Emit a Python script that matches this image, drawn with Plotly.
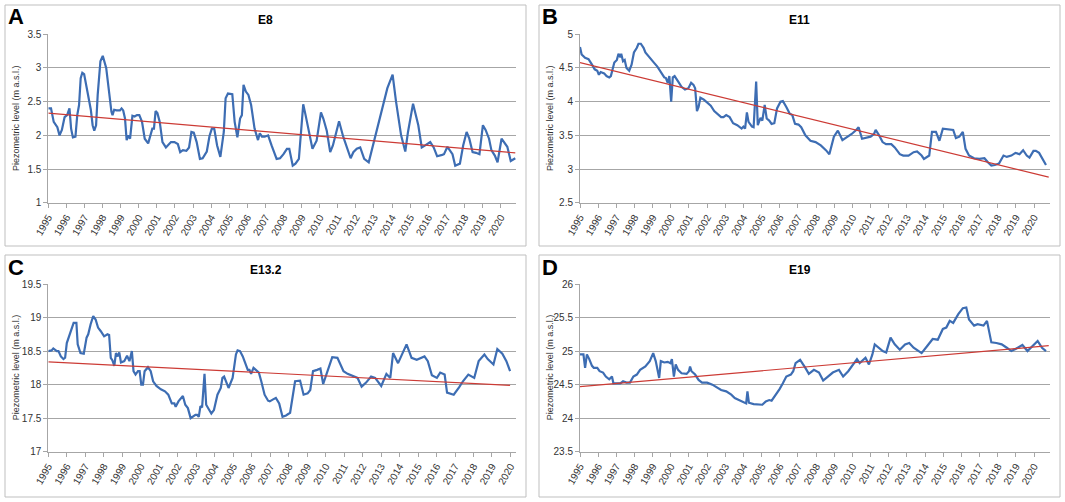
import plotly.graph_objects as go

# ---------------- data ----------------
year_ticks = list(range(1995, 2021))
year_labels = [str(y) for y in year_ticks]

a_years = [1995.0, 1995.15, 1995.3, 1995.5, 1995.62, 1995.75, 1995.9, 1996.04, 1996.17, 1996.26,
           1996.36, 1996.5, 1996.6, 1996.7, 1996.79, 1996.88, 1996.98, 1997.2, 1997.35, 1997.45,
           1997.54, 1997.64, 1997.73, 1997.88, 1998.01, 1998.2, 1998.33, 1998.49, 1998.55, 1998.64,
           1998.77, 1998.96, 1999.05, 1999.14, 1999.24, 1999.33, 1999.43, 1999.52, 1999.65, 1999.77,
           1999.9, 2000.03, 2000.18, 2000.33, 2000.52, 2000.65, 2000.75, 2000.84, 2000.93, 2001.03,
           2001.16, 2001.31, 2001.5, 2001.78, 2001.97, 2002.16, 2002.29, 2002.44, 2002.63, 2002.78,
           2002.91, 2003.04, 2003.2, 2003.38, 2003.53, 2003.76, 2003.91, 2004.04, 2004.17, 2004.33,
           2004.51, 2004.7, 2004.8, 2004.93, 2005.08, 2005.17, 2005.3, 2005.45, 2005.6, 2005.7,
           2005.79, 2005.92, 2006.06, 2006.21, 2006.4, 2006.5, 2006.59, 2006.69, 2006.81, 2006.96,
           2007.15, 2007.34, 2007.62, 2007.81, 2008.0, 2008.19, 2008.32, 2008.51, 2008.66, 2008.85,
           2009.09, 2009.22, 2009.41, 2009.6, 2009.83, 2010.07, 2010.2, 2010.39, 2010.58, 2010.73,
           2010.92, 2011.07, 2011.3, 2011.52, 2011.71, 2011.86, 2012.05, 2012.24, 2012.46, 2012.71,
           2012.99, 2013.37, 2013.74, 2014.03, 2014.22, 2014.5, 2014.73, 2014.88, 2015.16, 2015.45,
           2015.64, 2015.83, 2016.11, 2016.3, 2016.49, 2016.77, 2016.87, 2017.06, 2017.19, 2017.34,
           2017.49, 2017.62, 2017.75, 2017.93, 2018.12, 2018.27, 2018.45, 2018.64, 2018.83, 2019.02,
           2019.17, 2019.36, 2019.49, 2019.68, 2019.83, 2020.05, 2020.19, 2020.37, 2020.56, 2020.67,
           2020.81]
a_levels = [2.40, 2.40, 2.20, 2.12, 2.00, 2.08, 2.27, 2.30, 2.40, 2.10,
            1.97, 1.98, 2.30, 2.45, 2.85, 2.93, 2.91, 2.60, 2.38, 2.15,
            2.07, 2.15, 2.60, 3.10, 3.18, 3.00, 2.70, 2.35, 2.30, 2.38,
            2.37, 2.37, 2.40, 2.37, 2.25, 1.93, 2.00, 1.95, 2.29, 2.28,
            2.30, 2.30, 2.20, 1.95, 1.88, 2.03, 2.10, 2.10, 2.36, 2.33,
            2.20, 1.90, 1.82, 1.90, 1.90, 1.87, 1.75, 1.78, 1.77, 1.82,
            2.05, 2.04, 1.90, 1.65, 1.66, 1.76, 1.99, 2.10, 2.10, 1.85,
            1.68, 2.05, 2.55, 2.62, 2.62, 2.61, 2.20, 1.97, 2.25, 2.30,
            2.75, 2.65, 2.60, 2.45, 2.10, 2.00, 1.93, 2.03, 1.98, 1.98,
            2.00, 1.85, 1.65, 1.66, 1.72, 1.80, 1.80, 1.55, 1.58, 1.65,
            2.46, 2.30, 2.05, 1.80, 1.92, 2.34, 2.25, 2.07, 1.75, 1.85,
            2.05, 2.21, 1.98, 1.82, 1.66, 1.75, 1.80, 1.82, 1.65, 1.60,
            1.90, 2.30, 2.70, 2.90, 2.50, 2.00, 1.76, 2.05, 2.47, 2.15,
            1.82, 1.85, 1.90, 1.82, 1.69, 1.71, 1.72, 1.83, 1.78, 1.72,
            1.55, 1.56, 1.58, 1.85, 2.05, 1.95, 1.75, 1.74, 1.72, 2.15,
            2.08, 1.95, 1.78, 1.70, 1.60, 1.95, 1.90, 1.83, 1.62, 1.64,
            1.66]
a_trend_years = [1995.0, 2020.81]
a_trend_levels = [2.33, 1.74]

b_years = [1995.0, 1995.09, 1995.28, 1995.47, 1995.66, 1995.81, 1995.95, 1996.04, 1996.14, 1996.33,
           1996.46, 1996.61, 1996.7, 1996.8, 1996.89, 1997.03, 1997.12, 1997.22, 1997.27, 1997.37,
           1997.46, 1997.56, 1997.71, 1997.84, 1997.97, 1998.13, 1998.22, 1998.35, 1998.5, 1998.6,
           1998.88, 1999.07, 1999.26, 1999.45, 1999.64, 1999.73, 1999.83, 1999.92, 2000.02, 2000.11,
           2000.21, 2000.4, 2000.59, 2000.78, 2000.97, 2001.12, 2001.25, 2001.34, 2001.44, 2001.53,
           2001.63, 2001.82, 2002.0, 2002.2, 2002.39, 2002.58, 2002.77, 2002.9, 2003.05, 2003.24,
           2003.43, 2003.66, 2003.81, 2003.9, 2004.0, 2004.09, 2004.19, 2004.28, 2004.47, 2004.56,
           2004.7, 2004.79, 2004.94, 2005.04, 2005.17, 2005.28, 2005.42, 2005.55, 2005.7, 2005.85,
           2006.04, 2006.17, 2006.36, 2006.55, 2006.69, 2006.84, 2007.03, 2007.18, 2007.41, 2007.69,
           2007.97, 2008.26, 2008.54, 2008.73, 2008.98, 2009.2, 2009.45, 2009.68, 2009.96, 2010.21,
           2010.34, 2010.53, 2010.81, 2011.0, 2011.19, 2011.28, 2011.47, 2011.66, 2011.85, 2012.14,
           2012.33, 2012.61, 2012.8, 2013.09, 2013.37, 2013.56, 2013.81, 2013.94, 2014.23, 2014.38,
           2014.6, 2014.79, 2014.98, 2015.36, 2015.55, 2015.7, 2015.89, 2016.08, 2016.23, 2016.42,
           2016.7, 2016.99, 2017.27, 2017.46, 2017.65, 2017.84, 2018.07, 2018.32, 2018.5, 2018.75,
           2018.98, 2019.2, 2019.4, 2019.6, 2019.75, 2019.97, 2020.1, 2020.28, 2020.47, 2020.66]
b_levels = [4.81, 4.70, 4.65, 4.63, 4.55, 4.48, 4.46, 4.40, 4.44, 4.42,
            4.38, 4.36, 4.38, 4.48, 4.58, 4.62, 4.71, 4.66, 4.71, 4.60,
            4.62, 4.50, 4.46, 4.55, 4.73, 4.80, 4.86, 4.86, 4.80, 4.73,
            4.63, 4.58, 4.52, 4.43, 4.36, 4.35, 4.28, 4.38, 4.00, 4.36,
            4.38, 4.30, 4.22, 4.18, 4.20, 4.28, 4.25, 4.20, 3.86, 3.92,
            4.06, 4.03, 3.98, 3.94, 3.86, 3.82, 3.77, 3.77, 3.80, 3.77,
            3.68, 3.65, 3.62, 3.60, 3.63, 3.60, 3.84, 3.70, 3.63, 3.62,
            4.30, 3.65, 3.76, 3.72, 3.95, 3.75, 3.72, 3.67, 3.68, 3.90,
            4.00, 4.01, 3.92, 3.82, 3.80, 3.67, 3.66, 3.62, 3.50, 3.42,
            3.40, 3.35, 3.28, 3.22, 3.48, 3.57, 3.43, 3.47, 3.52, 3.58,
            3.62, 3.45, 3.47, 3.48, 3.52, 3.58, 3.50, 3.40, 3.37, 3.37,
            3.32, 3.22, 3.20, 3.20, 3.25, 3.26, 3.20, 3.15, 3.20, 3.55,
            3.55, 3.42, 3.60, 3.59, 3.58, 3.46, 3.48, 3.55, 3.30, 3.20,
            3.16, 3.15, 3.16, 3.10, 3.05, 3.06, 3.08, 3.20, 3.18, 3.20,
            3.24, 3.22, 3.28, 3.20, 3.17, 3.27, 3.27, 3.24, 3.15, 3.06]
b_trend_years = [1995.0, 2020.81]
b_trend_levels = [4.58, 2.88]

c_years = [1995.0, 1995.18, 1995.27, 1995.46, 1995.55, 1995.68, 1995.82, 1995.91, 1996.0, 1996.13,
           1996.22, 1996.37, 1996.52, 1996.59, 1996.74, 1996.92, 1997.07, 1997.16, 1997.29, 1997.43,
           1997.56, 1997.69, 1997.83, 1998.02, 1998.2, 1998.29, 1998.38, 1998.47, 1998.57, 1998.66,
           1998.75, 1998.84, 1998.93, 1999.11, 1999.26, 1999.39, 1999.52, 1999.61, 1999.72, 1999.85,
           1999.94, 2000.03, 2000.12, 2000.21, 2000.39, 2000.54, 2000.67, 2000.85, 2001.09, 2001.31,
           2001.49, 2001.68, 2001.82, 2001.89, 2002.04, 2002.28, 2002.41, 2002.55, 2002.7, 2002.86,
           2002.96, 2003.05, 2003.14, 2003.23, 2003.32, 2003.45, 2003.54, 2003.69, 2003.82, 2003.96,
           2004.15, 2004.33, 2004.42, 2004.51, 2004.61, 2004.75, 2004.97, 2005.15, 2005.24, 2005.37,
           2005.52, 2005.66, 2005.79, 2005.88, 2005.97, 2006.1, 2006.25, 2006.39, 2006.52, 2006.7,
           2006.89, 2006.98, 2007.16, 2007.31, 2007.49, 2007.67, 2007.86, 2008.08, 2008.35, 2008.62,
           2008.81, 2009.03, 2009.17, 2009.32, 2009.54, 2009.72, 2009.87, 2010.05, 2010.27, 2010.36,
           2010.64, 2010.82, 2010.97, 2011.19, 2011.46, 2011.73, 2011.95, 2012.19, 2012.46, 2012.68,
           2013.01, 2013.29, 2013.5, 2013.65, 2013.92, 2014.1, 2014.38, 2014.65, 2014.93, 2015.35,
           2015.53, 2015.75, 2016.02, 2016.2, 2016.44, 2016.57, 2016.75, 2016.93, 2017.22, 2017.43,
           2017.72, 2018.04, 2018.28, 2018.59, 2018.77, 2019.08, 2019.29, 2019.56, 2019.78, 2019.98]
c_levels = [18.50, 18.51, 18.54, 18.50, 18.50, 18.42, 18.38, 18.40, 18.62, 18.72,
            18.82, 18.92, 18.92, 18.60, 18.47, 18.46, 18.70, 18.75, 18.90, 19.02,
            18.97, 18.85, 18.80, 18.72, 18.75, 18.74, 18.40, 18.36, 18.28, 18.47,
            18.42, 18.48, 18.33, 18.35, 18.43, 18.35, 18.50, 18.20, 18.15, 18.20,
            18.20, 18.00, 18.00, 18.20, 18.26, 18.20, 18.05, 17.98, 17.93, 17.90,
            17.85, 17.72, 17.72, 17.67, 17.75, 17.83, 17.70, 17.65, 17.50, 17.53,
            17.55, 17.55, 17.52, 17.68, 17.66, 18.16, 17.70, 17.63, 17.57, 17.62,
            17.85, 17.95, 18.10, 18.12, 18.05, 17.95, 18.10, 18.45, 18.51, 18.50,
            18.42, 18.33, 18.22, 18.22, 18.16, 18.25, 18.22, 18.18, 18.05, 17.85,
            17.76, 17.75, 17.78, 17.80, 17.72, 17.52, 17.54, 17.58, 18.05, 18.06,
            17.85, 17.87, 17.92, 18.20, 18.22, 18.24, 18.01, 18.15, 18.35, 18.41,
            18.40, 18.28, 18.20, 18.16, 18.13, 18.10, 17.97, 18.03, 18.12, 18.10,
            17.98, 18.16, 18.10, 18.47, 18.32, 18.42, 18.60, 18.40, 18.37, 18.42,
            18.35, 18.14, 18.10, 18.18, 18.15, 17.88, 17.87, 17.85, 17.96, 18.05,
            18.15, 18.10, 18.35, 18.45, 18.38, 18.30, 18.53, 18.46, 18.35, 18.20]
c_trend_years = [1995.0, 2019.98]
c_trend_levels = [18.34, 17.99]

d_years = [1995.0, 1995.19, 1995.28, 1995.38, 1995.51, 1995.66, 1995.76, 1995.95, 1996.08, 1996.27,
           1996.42, 1996.61, 1996.76, 1996.84, 1997.03, 1997.22, 1997.37, 1997.56, 1997.75, 1997.94,
           1998.13, 1998.31, 1998.6, 1998.84, 1999.03, 1999.17, 1999.36, 1999.45, 1999.64, 1999.83,
           1999.98, 2000.06, 2000.17, 2000.27, 2000.4, 2000.59, 2000.87, 2001.0, 2001.06, 2001.14,
           2001.34, 2001.53, 2001.72, 2002.0, 2002.29, 2002.58, 2002.77, 2003.05, 2003.33, 2003.52,
           2003.81, 2004.03, 2004.15, 2004.22, 2004.3, 2004.56, 2004.85, 2005.04, 2005.23, 2005.42,
           2005.55, 2005.74, 2005.98, 2006.17, 2006.36, 2006.61, 2006.74, 2006.87, 2007.12, 2007.41,
           2007.6, 2007.88, 2008.16, 2008.39, 2008.64, 2008.92, 2009.26, 2009.49, 2009.77, 2010.06,
           2010.25, 2010.4, 2010.53, 2010.72, 2010.91, 2011.1, 2011.23, 2011.48, 2011.67, 2011.86,
           2012.1, 2012.33, 2012.61, 2012.9, 2013.13, 2013.37, 2013.62, 2013.81, 2014.13, 2014.42,
           2014.7, 2014.98, 2015.17, 2015.36, 2015.55, 2015.83, 2016.08, 2016.27, 2016.42, 2016.7,
           2016.89, 2017.22, 2017.41, 2017.65, 2017.93, 2018.22, 2018.5, 2018.75, 2018.98, 2019.36,
           2019.64, 2019.89, 2020.2, 2020.44, 2020.66]
d_levels = [24.95, 24.95, 24.75, 24.95, 24.88, 24.78, 24.75, 24.75, 24.70, 24.68,
            24.62, 24.58, 24.62, 24.52, 24.52, 24.52, 24.55, 24.53, 24.53, 24.62,
            24.65, 24.72, 24.77, 24.85, 24.97, 24.85, 24.60, 24.85, 24.83, 24.84,
            24.82, 24.88, 24.62, 24.80, 24.72, 24.67, 24.66, 24.70, 24.77, 24.70,
            24.65, 24.57, 24.53, 24.53, 24.50, 24.45, 24.42, 24.40, 24.35, 24.30,
            24.26, 24.23, 24.22, 24.40, 24.23, 24.21, 24.20, 24.20, 24.25, 24.27,
            24.26, 24.33, 24.43, 24.52, 24.62, 24.65, 24.70, 24.82, 24.87, 24.75,
            24.66, 24.72, 24.68, 24.56, 24.62, 24.68, 24.72, 24.62, 24.70, 24.82,
            24.88, 24.82, 24.85, 24.90, 24.80, 24.95, 25.10, 25.05, 25.00, 24.98,
            25.20, 25.10, 25.02, 25.10, 25.12, 25.05, 25.00, 24.97, 25.08, 25.18,
            25.17, 25.33, 25.35, 25.45, 25.42, 25.55, 25.64, 25.65, 25.47, 25.38,
            25.40, 25.38, 25.45, 25.13, 25.12, 25.10, 25.05, 25.00, 25.03, 25.09,
            25.00, 25.07, 25.15, 25.05, 25.00]
d_trend_years = [1995.0, 2020.81]
d_trend_levels = [24.47, 25.08]

panel_titles = ["E8", "E11", "E13.2", "E19"]
panel_letters = ["A", "B", "C", "D"]
y_ranges = [[1, 3.5], [2.5, 5], [17, 19.5], [23.5, 26]]
x_ranges = [[1995, 2020.85], [1995, 2020.88], [1995, 2020.3], [1995, 2020.88]]
y_title = "Piezometric level (m a.s.l.)"

# ---------------- layout geometry (pixels) ----------------
W, H = 1065, 502
plot_boxes = [  # x0, x1, ytop, ybottom
    (48.3, 516, 34.3, 202.7),
    (580, 1050, 34.3, 202.7),
    (48.3, 516, 284, 451.7),
    (580, 1050, 284, 451.7),
]
frame_boxes = [
    (5, 526, 5, 246),
    (539, 1060, 5, 246),
    (5, 526, 255, 497),
    (539, 1060, 255, 497),
]

def px(x):
    return x / W

def py(y):
    return 1 - y / H

series = [
    (a_years, a_levels, a_trend_years, a_trend_levels),
    (b_years, b_levels, b_trend_years, b_trend_levels),
    (c_years, c_levels, c_trend_years, c_trend_levels),
    (d_years, d_levels, d_trend_years, d_trend_levels),
]

FONT = "Liberation Sans"
GRID = "#a6a6a6"
fig = go.Figure()
layout = dict(
    width=W, height=H,
    margin=dict(l=0, r=0, t=0, b=0, autoexpand=False),
    paper_bgcolor="white", plot_bgcolor="white",
    showlegend=False,
    font=dict(family=FONT, size=10, color="#404040"),
)
shapes = []
annotations = []

for i, (xs, ys, txs, tys) in enumerate(series):
    n = "" if i == 0 else str(i + 1)
    xa, ya = "x" + n, "y" + n
    fig.add_trace(go.Scatter(x=xs, y=ys, mode="lines", xaxis=xa, yaxis=ya,
                             line=dict(color="#3d6db3", width=2.2)))
    fig.add_trace(go.Scatter(x=txs, y=tys, mode="lines", xaxis=xa, yaxis=ya,
                             line=dict(color="#cc3b35", width=1.2)))
    x0, x1, yt, yb = plot_boxes[i]
    layout["xaxis" + n] = dict(
        domain=[px(x0), px(x1)], range=x_ranges[i], anchor=ya, automargin=False,
        tickmode="array", tickvals=year_ticks, ticktext=year_labels,
        tickangle=-60, ticks="outside", ticklen=4, tickcolor=GRID,
        showline=True, linecolor=GRID, linewidth=1,
        showgrid=False, zeroline=False,
        tickfont=dict(family=FONT, size=10, color="#333333"),
    )
    layout["yaxis" + n] = dict(
        domain=[py(yb), py(yt)], range=y_ranges[i], anchor=xa, automargin=False,
        dtick=0.5, tick0=0, ticks="outside", ticklen=4, tickcolor=GRID,
        showline=True, linecolor=GRID, linewidth=1,
        showgrid=True, gridcolor=GRID, gridwidth=1, zeroline=False,
        tickfont=dict(family=FONT, size=10, color="#333333"),
    )
    fx0, fx1, fy0, fy1 = frame_boxes[i]
    shapes.append(dict(type="rect", xref="paper", yref="paper",
                       x0=px(fx0), x1=px(fx1), y0=py(fy1), y1=py(fy0),
                       line=dict(color="#bfbfbf", width=1), layer="below"))
    annotations.append(dict(text="<b>" + panel_titles[i] + "</b>", xref="paper", yref="paper",
                            x=px((fx0 + fx1) / 2), y=py(fy0 + 15), xanchor="center", yanchor="middle",
                            showarrow=False, font=dict(family=FONT, size=12, color="#000000")))
    annotations.append(dict(text="<b>" + panel_letters[i] + "</b>", xref="paper", yref="paper",
                            x=px(fx0 + 1), y=py(fy0 + 12), xanchor="left", yanchor="middle",
                            showarrow=False, font=dict(family=FONT, size=22, color="#000000")))
    annotations.append(dict(text=y_title, xref="paper", yref="paper",
                            x=px(fx0 + 10.5), y=py((yt + yb) / 2), xanchor="center", yanchor="middle",
                            textangle=-90, showarrow=False,
                            font=dict(family=FONT, size=9, color="#333333")))

layout["shapes"] = shapes
layout["annotations"] = annotations
fig.update_layout(**layout)
fig.write_html("out.html", config={"displayModeBar": False},
               post_script="document.body.style.margin='0';document.body.style.overflow='hidden';")
